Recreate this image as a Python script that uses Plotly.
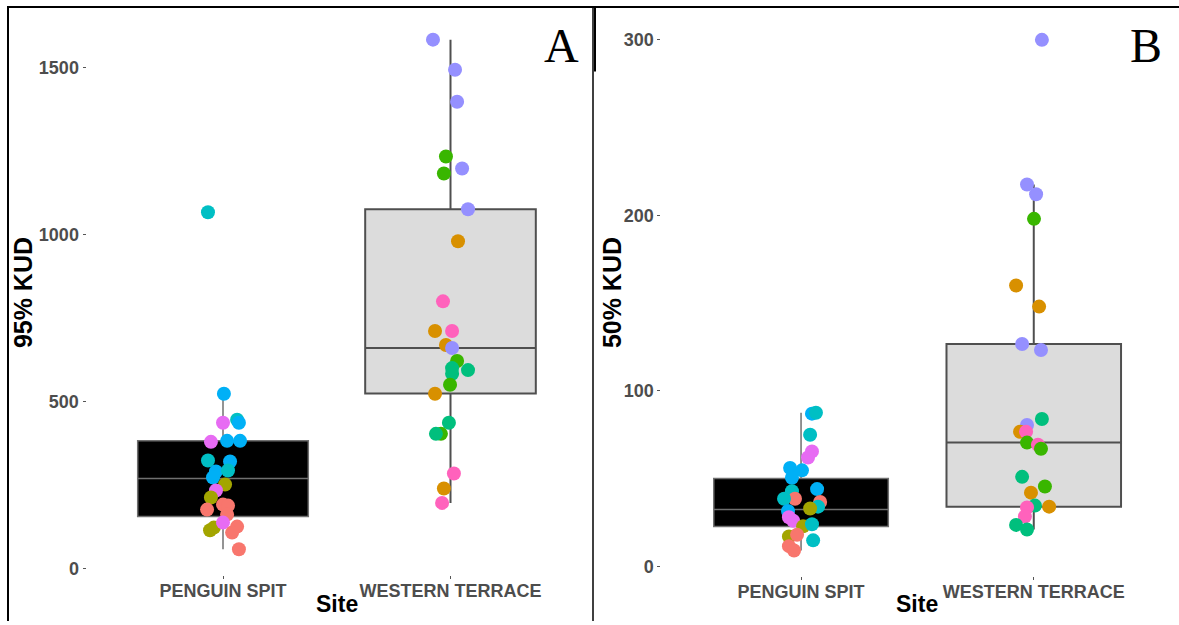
import plotly.graph_objects as go

# ---- categories and colours -------------------------------------------------
SITES = ["PENGUIN SPIT", "WESTERN TERRACE"]
SITE_POS = [1, 2]
# ggplot2 default hue palette for 10 tracked individuals
PALETTE = ["#F8766D", "#D89000", "#A3A500", "#39B600", "#00BF7D",
           "#00BFC4", "#00B0F6", "#9590FF", "#E76BF3", "#FF62BC"]

# ---- 95% KUD (panel A) -------------------------------------------------------
kud95_ps = [523, 436, 445, 436, 379, 382, 382, 323, 320, 290, 293, 272, 251,
            233, 212, 176, 191, 188, 161, 114, 122, 137, 125, 107, 57, 1067]
kud95_ps_id = [7, 9, 6, 7, 9, 7, 7, 6, 7, 7, 6, 7, 3,
               9, 3, 1, 1, 1, 1, 3, 3, 9, 1, 1, 1, 6]
kud95_ps_jit = [0.004, 0.0, 0.062, 0.070, -0.053, 0.018, 0.075, -0.066, 0.031,
                -0.031, 0.022, -0.044, 0.009, -0.031, -0.053, -0.070, 0.0,
                0.022, 0.018, -0.057, -0.040, 0.0, 0.062, 0.040, 0.070, -0.066]

kud95_wt = [1584, 1494, 1398, 1234, 1183, 1198, 1076, 980, 800, 711, 711, 669,
            660, 621, 600, 594, 583, 550, 523, 436, 403, 403, 284, 239, 196]
kud95_wt_id = [8, 8, 8, 4, 4, 8, 8, 2, 10, 2, 10, 2,
               8, 4, 5, 5, 5, 4, 2, 5, 4, 5, 10, 2, 10]
kud95_wt_jit = [-0.077, 0.020, 0.029, -0.020, -0.029, 0.051, 0.077, 0.033,
                -0.033, -0.068, 0.007, -0.020, 0.007, 0.029, 0.007, 0.077,
                0.007, -0.002, -0.068, -0.007, -0.042, -0.064, 0.015, -0.029,
                -0.037]

kud95_q1 = [155, 524]
kud95_med = [269, 660]
kud95_q3 = [382, 1076]
kud95_lo = [57, 196]
kud95_hi = [523, 1584]

# ---- 50% KUD (panel B) -------------------------------------------------------
kud50_ps = [87, 87.5, 75, 65.5, 62, 56, 54.7, 50.5, 44, 42.8, 38.5, 38.5, 36.7,
            34, 33, 31.5, 28, 26, 22.8, 24, 17, 18, 14.8, 11.5, 9]
kud50_ps_id = [7, 6, 6, 9, 9, 7, 7, 7, 7, 6, 1, 6, 1,
               6, 3, 7, 9, 9, 3, 6, 3, 1, 6, 1, 1]
kud50_ps_jit = [0.047, 0.064, 0.039, 0.047, 0.030, -0.047, 0.004, -0.039,
                0.069, -0.039, -0.026, -0.073, 0.082, 0.073, 0.039, -0.056,
                -0.052, -0.034, 0.009, 0.047, -0.052, -0.017, 0.052, -0.052,
                -0.030]

kud50_wt = [300, 217.6, 212, 198, 160, 148, 126.7, 123.3, 84, 80.6, 76.7, 76.7,
            70.5, 69.3, 67, 51, 45.5, 42, 34.6, 34, 33.5, 28.4, 23.6, 21]
kud50_wt_id = [8, 8, 8, 4, 2, 2, 8, 8, 5, 8, 2, 10,
               4, 10, 4, 5, 4, 2, 5, 2, 10, 10, 5, 5]
kud50_wt_jit = [0.035, -0.029, 0.010, 0.001, -0.076, 0.023, -0.050, 0.031,
                0.035, -0.029, -0.059, -0.033, -0.029, 0.018, 0.031, -0.050,
                0.048, -0.012, 0.005, 0.066, -0.029, -0.038, -0.076, -0.029]

kud50_q1 = [22.7, 34]
kud50_med = [32.4, 70.5]
kud50_q3 = [50, 126.7]
kud50_lo = [9, 21]
kud50_hi = [87.5, 217.6]

# ---- styling -----------------------------------------------------------------
BOX_FILL = ["#000000", "#DCDCDC"]
BOX_LINE = ["#707070", "#4F4F4F"]
BOX_LINE_W = [1.5, 2]
TICK_FONT = dict(family="Liberation Sans", size=18, color="#4D4D4D", weight="bold")
XTITLE_FONT = dict(family="Liberation Sans", size=23, color="#000000", weight="bold")
YTITLE_FONT = dict(family="Liberation Sans", size=25, color="#000000", weight="bold")
W, H = 1179, 625

fig = go.Figure()


def add_panel(ax, q1, med, q3, lo, hi, groups):
    xa, ya = ("x", "y") if ax == 1 else ("x2", "y2")
    for i in range(2):
        fig.add_trace(go.Box(
            x=[SITE_POS[i]], q1=[q1[i]], median=[med[i]], q3=[q3[i]],
            lowerfence=[lo[i]], upperfence=[hi[i]],
            width=0.75, whiskerwidth=0, boxpoints=False,
            fillcolor=BOX_FILL[i], line=dict(color=BOX_LINE[i], width=BOX_LINE_W[i]),
            xaxis=xa, yaxis=ya, showlegend=False, hoverinfo="skip"))
    for i, (vals, ids, jit) in enumerate(groups):
        fig.add_trace(go.Scatter(
            x=[SITE_POS[i] + j for j in jit], y=vals, mode="markers",
            marker=dict(size=14, color=[PALETTE[k - 1] for k in ids],
                        line=dict(width=0)),
            xaxis=xa, yaxis=ya, showlegend=False))


add_panel(1, kud95_q1, kud95_med, kud95_q3, kud95_lo, kud95_hi,
          [(kud95_ps, kud95_ps_id, kud95_ps_jit),
           (kud95_wt, kud95_wt_id, kud95_wt_jit)])
add_panel(2, kud50_q1, kud50_med, kud50_q3, kud50_lo, kud50_hi,
          [(kud50_ps, kud50_ps_id, kud50_ps_jit),
           (kud50_wt, kud50_wt_id, kud50_wt_jit)])


def px_x(p):
    return p / W


def px_y(p):
    return 1 - p / H


xaxis_common = dict(range=[0.4, 2.6], tickvals=SITE_POS, ticktext=SITES,
                    showgrid=False, zeroline=False, showline=False,
                    ticks="outside", ticklen=3, tickwidth=1, tickcolor="#555555",
                    ticklabelstandoff=-4, tickfont=TICK_FONT)
yaxis_common = dict(showgrid=False, zeroline=False, showline=False,
                    ticks="outside", ticklen=3, tickwidth=1, tickcolor="#555555",
                    tickfont=TICK_FONT)

fig.update_layout(
    width=W, height=H, margin=dict(l=0, r=0, t=0, b=0),
    paper_bgcolor="white", plot_bgcolor="white",
    xaxis=dict(domain=[px_x(86.5), px_x(587)], anchor="y", **xaxis_common),
    yaxis=dict(domain=[px_y(578.7), px_y(14.4)], anchor="x",
               range=[-20, 1660], tickvals=[0, 500, 1000, 1500], **yaxis_common),
    xaxis2=dict(domain=[px_x(661.4), px_x(1173.4)], anchor="y2", **xaxis_common),
    yaxis2=dict(domain=[px_y(579.7), px_y(14.5)], anchor="x2",
                range=[-5.5, 314.5], tickvals=[0, 100, 200, 300], **yaxis_common),
)

# axis titles and panel letters
annos = [
    dict(text="Site", x=px_x(337), y=px_y(608), font=XTITLE_FONT),
    dict(text="Site", x=px_x(917), y=px_y(608), font=XTITLE_FONT),
    dict(text="95% KUD", x=px_x(23), y=px_y(295), textangle=-90, font=YTITLE_FONT),
    dict(text="50% KUD", x=px_x(612), y=px_y(295), textangle=-90, font=YTITLE_FONT),
    dict(text="A", x=px_x(561), y=px_y(46),
         font=dict(family="Liberation Serif", size=48, color="black")),
    dict(text="B", x=px_x(1146), y=px_y(46),
         font=dict(family="Liberation Serif", size=48, color="black")),
]
for a in annos:
    fig.add_annotation(xref="paper", yref="paper", showarrow=False,
                       xanchor="center", yanchor="middle", **a)

# figure frame lines
frame = [
    (px_x(7), px_y(7), 1.0, px_y(7), 2),
    (px_x(8), px_y(7), px_x(8), 0.0, 2),
    (px_x(593), px_y(7), px_x(593), 0.0, 1.5),
    (px_x(595), px_y(7), px_x(595), px_y(72), 2),
]
for x0, y0, x1, y1, w in frame:
    fig.add_shape(type="line", xref="paper", yref="paper",
                  x0=x0, y0=y0, x1=x1, y1=y1, line=dict(color="black", width=w))

fig.write_html("out.html")
